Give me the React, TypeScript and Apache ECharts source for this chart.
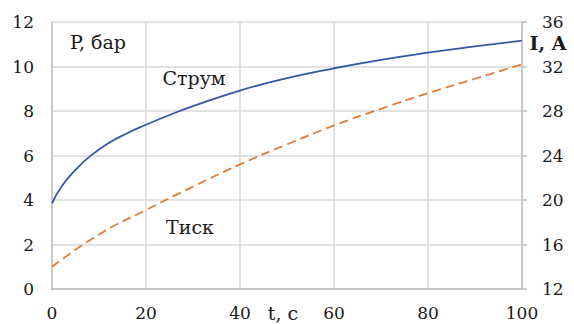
import React, { useEffect, useRef } from "react";
import * as echarts from "echarts";

const tValues: number[] = [0, 2, 5, 8, 12, 16, 20, 25, 30, 40, 50, 60, 70, 80, 90, 100];
const currentA: number[] = [19.7, 21.2, 22.7, 23.9, 25.1, 26.0, 26.76, 27.64, 28.44, 29.84, 30.96, 31.84, 32.6, 33.24, 33.8, 34.32];

const tPressure: number[] = [0, 10, 20, 30, 40, 50, 60, 70, 80, 90, 100];
const pressureBar: number[] = [1.0, 2.45, 3.55, 4.6, 5.6, 6.5, 7.35, 8.1, 8.8, 9.45, 10.1];

const xTicks = { min: 0, max: 100, interval: 20 };
const leftTicks = { min: 0, max: 12, interval: 2 };
const rightTicks = { min: 12, max: 36, interval: 4 };

const labels = {
  leftAxis: "P, бар",
  rightAxis: "I, A",
  xAxis: "t, c",
  current: "Струм",
  pressure: "Тиск",
};

const FONT = "DejaVu Serif";

export default function App() {
  const ref = useRef<HTMLDivElement>(null);
  useEffect(() => {
    if (!ref.current) return;
    const chart = echarts.init(ref.current, null, { renderer: "svg" });
    const gridColor = "#d9d9d9";
    const axisColor = "#bfbfbf";
    const labelStyle = { color: "#1a1a1a", fontFamily: FONT, fontSize: 17 };
    const textStyle = (x: number, y: number, text: string, bold = false) => ({
      type: "text",
      x,
      y,
      style: {
        text,
        fill: "#1a1a1a",
        fontFamily: FONT,
        fontSize: 19,
        fontWeight: bold ? "bold" : "normal",
        textAlign: "center",
        textVerticalAlign: "middle",
      },
      z: 10,
    });
    chart.setOption({
      animation: false,
      grid: { left: 52, right: 52, top: 22, bottom: 35, containLabel: false },
      xAxis: {
        type: "value",
        ...xTicks,
        axisLine: { show: true, lineStyle: { color: axisColor, width: 1.5 } },
        axisTick: { show: false },
        splitLine: { show: true, lineStyle: { color: gridColor, width: 1.5 } },
        axisLabel: { ...labelStyle, margin: 15 },
      },
      yAxis: [
        {
          type: "value",
          ...leftTicks,
          axisLine: { show: true, lineStyle: { color: axisColor, width: 1.5 } },
          axisTick: { show: false },
          splitLine: { show: true, lineStyle: { color: gridColor, width: 1.5 } },
          axisLabel: { ...labelStyle, margin: 18 },
        },
        {
          type: "value",
          position: "right",
          ...rightTicks,
          axisLine: { show: true, lineStyle: { color: axisColor, width: 1.5 } },
          axisTick: { show: true, length: 5, lineStyle: { color: axisColor, width: 1.5 } },
          splitLine: { show: false },
          axisLabel: { ...labelStyle, margin: 20 },
        },
      ],
      series: [
        {
          name: labels.current,
          type: "line",
          yAxisIndex: 1,
          smooth: 0.5,
          symbol: "none",
          data: tValues.map((t, i) => [t, currentA[i]]),
          lineStyle: { color: "#3557a5", width: 1.8 },
          z: 3,
        },
        {
          name: labels.pressure,
          type: "line",
          yAxisIndex: 0,
          smooth: 0.5,
          symbol: "none",
          data: tPressure.map((t, i) => [t, pressureBar[i]]),
          lineStyle: { color: "#e07b39", width: 1.8, type: [9, 5] },
          z: 2,
        },
      ],
      graphic: [
        textStyle(98, 42, labels.leftAxis),
        textStyle(194, 78, labels.current),
        textStyle(190, 227, labels.pressure),
        textStyle(283, 313, labels.xAxis),
        textStyle(548, 43, labels.rightAxis, true),
      ],
    });
    return () => chart.dispose();
  }, []);
  return (
    <div
      ref={ref}
      style={{ position: "fixed", left: 0, top: 0, width: 574, height: 324, background: "#fff" }}
    />
  );
}
